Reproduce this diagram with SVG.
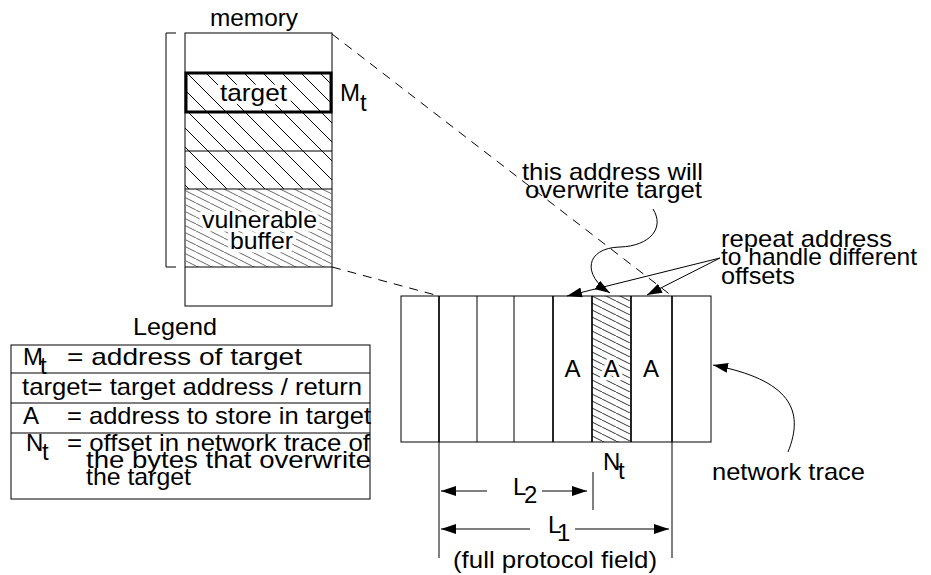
<svg xmlns="http://www.w3.org/2000/svg" width="931" height="575" viewBox="0 0 931 575">
<style>
text{font-family:"Liberation Sans",Arial,sans-serif;font-size:24px;fill:#000}
.ln{stroke:#000;stroke-width:1;fill:none}
.thin{stroke:#000;stroke-width:1;fill:none}
.thick{stroke:#000;stroke-width:1.7;fill:none}
.dash{stroke:#000;stroke-width:1;fill:none;stroke-dasharray:9,7}
.arr{stroke:#000;stroke-width:1;fill:none;marker-end:url(#ah)}
.halo{stroke:#fff;stroke-width:7;paint-order:stroke;stroke-linejoin:round}
</style>
<defs>
<marker id="ah" markerUnits="userSpaceOnUse" markerWidth="15" markerHeight="10" refX="15" refY="5" orient="auto">
<path d="M0,0 L15,5 L0,10 z" fill="#000"/>
</marker>
<pattern id="memHatch" patternUnits="userSpaceOnUse" width="19" height="19">
<path d="M0,0 L19,19 M-5,14 L5,24 M14,-5 L24,5" stroke="#000" stroke-width="1"/>
</pattern>
<pattern id="vulnHatch" patternUnits="userSpaceOnUse" width="14" height="7">
<path d="M-2,-1 L16,8" stroke="#666" stroke-width="1"/>
</pattern>
<pattern id="netHatch" patternUnits="userSpaceOnUse" width="14" height="7">
<path d="M-2,-1 L16,8" stroke="#333" stroke-width="1"/>
</pattern>
</defs>

<g id="memory">
<text x="210" y="26" textLength="88" lengthAdjust="spacingAndGlyphs">memory</text>
<rect x="185" y="33" width="147" height="273" class="ln" fill="#fff"/>
<rect x="185" y="72" width="147" height="117" fill="url(#memHatch)"/>
<rect x="185" y="189" width="147" height="78" fill="url(#vulnHatch)"/>
<line x1="185" y1="151" x2="332" y2="151" class="ln"/>
<line x1="185" y1="189" x2="332" y2="189" class="ln"/>
<line x1="185" y1="267" x2="332" y2="267" class="ln"/>
<rect x="186" y="73" width="145" height="39" fill="none" stroke="#000" stroke-width="3"/>
<text x="220" y="101" textLength="67" lengthAdjust="spacingAndGlyphs" class="halo">target</text>
<text x="202" y="228" textLength="115" lengthAdjust="spacingAndGlyphs" class="halo">vulnerable</text>
<text x="230" y="249" textLength="63" lengthAdjust="spacingAndGlyphs" class="halo">buffer</text>
<text x="340" y="101">M</text>
<text x="360" y="111">t</text>
<path d="M176,33 L166,33 L166,267 L176,267" class="ln"/>
</g>

<g id="legend">
<text x="133" y="335" textLength="84" lengthAdjust="spacingAndGlyphs">Legend</text>
<rect x="11" y="345" width="359" height="154" class="ln"/>
<line x1="11" y1="373" x2="370" y2="373" class="ln"/>
<line x1="11" y1="403" x2="370" y2="403" class="ln"/>
<line x1="11" y1="433" x2="370" y2="433" class="ln"/>
<text x="23" y="365">M</text>
<text x="40" y="374">t</text>
<text x="67" y="365" textLength="235" lengthAdjust="spacingAndGlyphs">= address of target</text>
<text x="22" y="395" textLength="340" lengthAdjust="spacingAndGlyphs">target= target address / return</text>
<text x="23" y="424">A</text>
<text x="67" y="424" textLength="304" lengthAdjust="spacingAndGlyphs">= address to store in target</text>
<text x="26" y="451">N</text>
<text x="42" y="460">t</text>
<text x="67" y="451" textLength="303" lengthAdjust="spacingAndGlyphs">= offset in network trace of</text>
<text x="86" y="468" textLength="285" lengthAdjust="spacingAndGlyphs">the bytes that overwrite</text>
<text x="86" y="485" textLength="105" lengthAdjust="spacingAndGlyphs">the target</text>
</g>

<g id="network-trace">
<rect x="592" y="296" width="39" height="146" fill="url(#netHatch)"/>
<rect x="401" y="296" width="310" height="146" class="ln"/>
<line x1="439" y1="296" x2="439" y2="442" class="thick"/>
<line x1="477" y1="296" x2="477" y2="442" class="thin"/>
<line x1="514" y1="296" x2="514" y2="442" class="thin"/>
<line x1="553" y1="296" x2="553" y2="442" class="thick"/>
<line x1="592" y1="296" x2="592" y2="442" class="thick"/>
<line x1="631" y1="296" x2="631" y2="442" class="thick"/>
<line x1="672" y1="296" x2="672" y2="442" class="thick"/>
<text x="572.5" y="377" text-anchor="middle">A</text>
<text x="611.5" y="377" text-anchor="middle" class="halo">A</text>
<text x="651" y="377" text-anchor="middle">A</text>
</g>

<g id="labels">
<text x="522" y="180" textLength="181" lengthAdjust="spacingAndGlyphs">this address will</text>
<text x="525" y="198" textLength="177" lengthAdjust="spacingAndGlyphs">overwrite target</text>
<text x="721" y="247" textLength="171" lengthAdjust="spacingAndGlyphs">repeat address</text>
<text x="721" y="265" textLength="196" lengthAdjust="spacingAndGlyphs">to handle different</text>
<text x="721" y="284" textLength="74" lengthAdjust="spacingAndGlyphs">offsets</text>
<text x="712" y="480" textLength="153" lengthAdjust="spacingAndGlyphs">network trace</text>
<text x="603" y="470">N</text>
<text x="618" y="479">t</text>
<text x="513" y="495">L</text>
<text x="524" y="503">2</text>
<text x="548" y="533">L</text>
<text x="557" y="541">1</text>
<text x="453" y="568" textLength="204" lengthAdjust="spacingAndGlyphs">(full protocol field)</text>
</g>

<g id="connectors">
<line x1="332" y1="34" x2="672" y2="296" class="dash"/>
<line x1="332" y1="267" x2="439" y2="296" class="dash"/>
<line x1="720" y1="258" x2="567" y2="296" class="arr"/>
<line x1="720" y1="258" x2="647" y2="295" class="arr"/>
<path d="M653,209 C665,228 650,246 620,247 C585,248 582,275 610,293" class="arr"/>
<path d="M788,452 C805,410 790,380 713,365" class="arr"/>
<line x1="439" y1="442" x2="439" y2="558" class="ln"/>
<line x1="672" y1="442" x2="672" y2="558" class="ln"/>
<line x1="593" y1="472" x2="593" y2="510" class="ln"/>
<line x1="487" y1="491" x2="441" y2="491" class="arr"/>
<line x1="542" y1="491" x2="587" y2="491" class="arr"/>
<line x1="530" y1="529" x2="441" y2="529" class="arr"/>
<line x1="575" y1="529" x2="669" y2="529" class="arr"/>
</g>
</svg>
